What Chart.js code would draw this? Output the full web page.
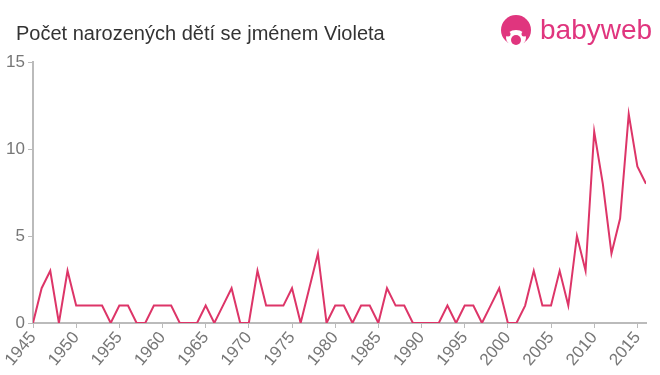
<!DOCTYPE html>
<html>
<head>
<meta charset="utf-8">
<script src="https://cdn.jsdelivr.net/npm/chart.js@4.4.0/dist/chart.umd.min.js"></script>
<style>
  body { margin: 0; background: #fff; }
  #wrap { position: relative; width: 660px; height: 375px; }
  #title { position: absolute; left: 16px; top: 22px; font: 20px "Liberation Sans", Arial, sans-serif; color: #333; }
  #logo { position: absolute; left: 500px; top: 15px; display: flex; align-items: center; }
  #logo span { font: 28px "Liberation Sans", Arial, sans-serif; color: #e0357e; margin-left: 8px; line-height: 30px; position: relative; top: -1px; }
</style>
</head>
<body>
<div id="wrap">
  <canvas id="myChart" width="660" height="375"></canvas>
  <div id="title">Počet narozených dětí se jménem Violeta</div>
  <div id="logo">
    <svg width="32" height="32" viewBox="0 0 32 32">
      <circle cx="16" cy="15" r="15" fill="#e0357e"/>
      <ellipse cx="16" cy="23" rx="10" ry="8" fill="#fff"/>
      <circle cx="16" cy="25" r="5" fill="#e0357e"/>
      <circle cx="8" cy="19" r="2.5" fill="#e0357e"/>
      <circle cx="24" cy="19" r="2.5" fill="#e0357e"/>
    </svg>
    <span>babyweb</span>
  </div>
</div>
<script>
var years = [1945,1946,1947,1948,1949,1950,1951,1952,1953,1954,1955,1956,1957,1958,1959,1960,1961,1962,1963,1964,1965,1966,1967,1968,1969,1970,1971,1972,1973,1974,1975,1976,1977,1978,1979,1980,1981,1982,1983,1984,1985,1986,1987,1988,1989,1990,1991,1992,1993,1994,1995,1996,1997,1998,1999,2000,2001,2002,2003,2004,2005,2006,2007,2008,2009,2010,2011,2012,2013,2014,2015,2016];
var births = [0,2,3,0,3,1,1,1,1,0,1,1,0,0,1,1,1,0,0,0,1,0,1,2,0,0,3,1,1,1,2,0,2,4,0,1,1,0,1,1,0,2,1,1,0,0,0,0,1,0,1,1,0,1,2,0,0,1,3,1,1,3,1,5,3,11,8,4,6,12,9,8];
var xTicks = [1945,1950,1955,1960,1965,1970,1975,1980,1985,1990,1995,2000,2005,2010,2015];
var yTicks = [0,5,10,15];

var points = years.map(function (y, i) { return { x: y, y: births[i] }; });
var axisColor = "#bbbbbb";
var tickFont = { family: "'Liberation Sans', Arial, sans-serif", size: 17 };

var ctx = document.getElementById("myChart");
var myChart = new Chart(ctx, {
  type: 'line',
  data: {
    datasets: [{
      data: points,
      borderColor: "#dd3568",
      borderWidth: 2,
      pointRadius: 0,
      tension: 0,
      fill: false
    }]
  },
  options: {
    responsive: false,
    animation: false,
    layout: { padding: { top: 62, right: 14, left: 0, bottom: 0 } },
    plugins: { legend: { display: false }, tooltip: { enabled: false } },
    scales: {
      x: {
        type: 'linear',
        min: 1945,
        max: 2016,
        afterBuildTicks: function (s) { s.ticks = xTicks.map(function (v) { return { value: v }; }); },
        afterFit: function (s) { s.height = 52; },
        grid: { drawOnChartArea: false, color: axisColor, tickLength: 5 },
        border: { color: axisColor, width: 2 },
        ticks: {
          color: "#777", font: tickFont, maxRotation: 50, minRotation: 50, padding: 0,
          callback: function (v) { return String(v); }
        }
      },
      y: {
        min: 0,
        max: 15,
        afterBuildTicks: function (s) { s.ticks = yTicks.map(function (v) { return { value: v }; }); },
        afterFit: function (s) { s.width = 33; },
        grid: { drawOnChartArea: false, color: axisColor, tickLength: 5 },
        border: { color: axisColor, width: 2 },
        ticks: { color: "#777", font: tickFont, padding: 3 }
      }
    }
  }
});
</script>
</body>
</html>
